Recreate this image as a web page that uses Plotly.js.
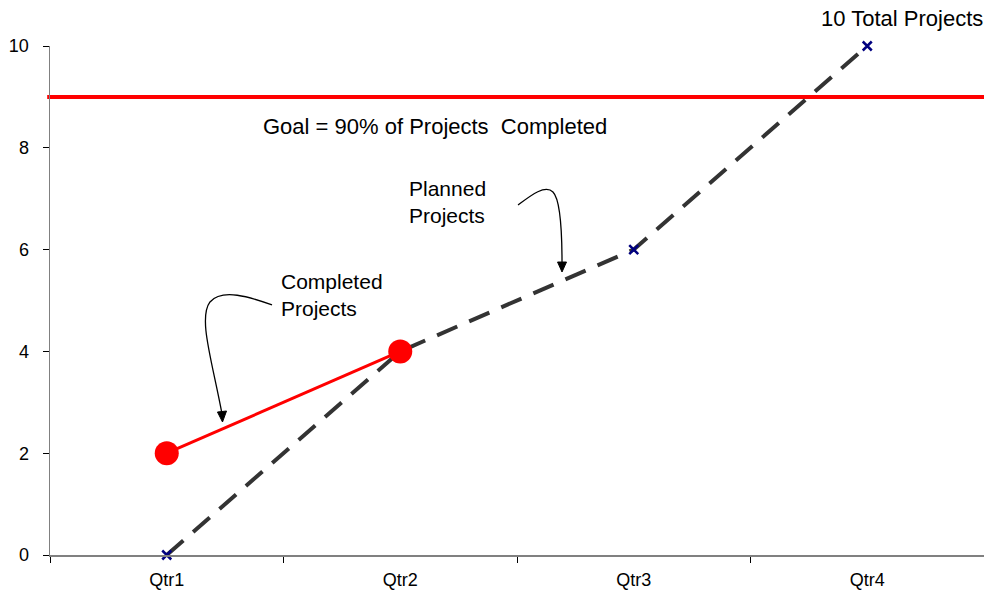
<!DOCTYPE html>
<html>
<head>
<meta charset="utf-8">
<script src="https://cdn.plot.ly/plotly-3.0.1.min.js"></script>
<style>html,body{margin:0;padding:0;background:#fff;}#chart{width:984px;height:590px;}</style>
</head>
<body>
<div id="chart"></div>
<script>
var quarters = ["Qtr1", "Qtr2", "Qtr3", "Qtr4"];
var plannedProjects = [0, 4, 6, 10];
var completedProjects = [2, 4, null, null];
var goalValue = 9;
var yTicks = [0, 2, 4, 6, 8, 10];

var W = 984, H = 590, L = 50, R = 0, T = 46, B = 35;
var PW = W - L - R, PH = H - T - B;
function px(x){ return ((x - L) / PW).toFixed(4); }
function py(y){ return ((H - B - y) / PH).toFixed(4); }
function P(x, y){ return px(x) + "," + py(y); }

var font = "Liberation Sans, Arial, sans-serif";

var traces = [
  {
    x: quarters, y: plannedProjects, type: "scatter", mode: "lines+markers",
    line: {color: "#333333", width: 4, dash: "22px,13px"},
    marker: {symbol: "x-thin", size: 9, color: "#000080", line: {color: "#000080", width: 2.5}},
    cliponaxis: false, hoverinfo: "skip", showlegend: false
  },
  {
    x: quarters, y: completedProjects, type: "scatter", mode: "lines+markers",
    line: {color: "#ff0000", width: 3},
    marker: {symbol: "circle", size: 24, color: "#ff0000"},
    connectgaps: false, cliponaxis: false, hoverinfo: "skip", showlegend: false
  }
];

var shapes = [
  {type: "line", xref: "paper", yref: "y", x0: -0.003, x1: 1, y0: goalValue, y1: goalValue,
   line: {color: "#ff0000", width: 4}, layer: "below"},
  // Completed arrow
  {type: "path", xref: "paper", yref: "paper",
   path: "M" + P(272, 305) + " C" + P(250, 297) + " " + P(222, 288) + " " + P(210, 302) +
         " C" + P(198, 318) + " " + P(212, 360) + " " + P(222, 414),
   line: {color: "#000000", width: 1.3}},
  {type: "path", xref: "paper", yref: "paper",
   path: "M" + P(217.5, 412) + " L" + P(226.5, 411) + " L" + P(222.5, 422) + " Z",
   fillcolor: "#000000", line: {color: "#000000", width: 1}},
  // Planned arrow
  {type: "path", xref: "paper", yref: "paper",
   path: "M" + P(518, 205) + " C" + P(530, 196) + " " + P(545, 184) + " " + P(553, 192) +
         " C" + P(561, 200) + " " + P(562, 240) + " " + P(562, 263),
   line: {color: "#000000", width: 1.3}},
  {type: "path", xref: "paper", yref: "paper",
   path: "M" + P(557.5, 262) + " L" + P(566.5, 262) + " L" + P(562, 272) + " Z",
   fillcolor: "#000000", line: {color: "#000000", width: 1}}
];

var annotations = [
  {xref: "paper", yref: "paper", x: px(434.5), y: py(127), text: "Goal = 90% of Projects&nbsp;&nbsp;Completed",
   showarrow: false, xanchor: "center", yanchor: "middle", font: {family: font, size: 22, color: "#000"}},
  {xref: "paper", yref: "paper", x: px(407), y: py(175), text: "Planned<br>Projects", align: "left",
   showarrow: false, xanchor: "left", yanchor: "top", font: {family: font, size: 21, color: "#000"}},
  {xref: "paper", yref: "paper", x: px(279), y: py(268), text: "Completed<br>Projects", align: "left",
   showarrow: false, xanchor: "left", yanchor: "top", font: {family: font, size: 21, color: "#000"}},
  {xref: "paper", yref: "paper", x: px(985), y: py(18), text: "10 Total Projects",
   showarrow: false, xanchor: "right", yanchor: "middle", font: {family: font, size: 22, color: "#000"}}
];

var layout = {
  width: W, height: H,
  margin: {l: L, r: R, t: T, b: B, pad: 0},
  paper_bgcolor: "#ffffff", plot_bgcolor: "#ffffff",
  showlegend: false,
  font: {family: font, color: "#000"},
  xaxis: {
    type: "category", categoryarray: quarters, range: [-0.5, 3.5],
    showgrid: false, zeroline: false, showline: true, linecolor: "#808080", linewidth: 1.5,
    ticks: "outside", tickson: "boundaries", ticklen: 6, tickcolor: "#000000", tickwidth: 1,
    ticklabelstandoff: 8,
    tickfont: {family: font, size: 18, color: "#000"}, fixedrange: true
  },
  yaxis: {
    range: [0, 10], tickvals: yTicks, showgrid: false, zeroline: false,
    showline: true, linecolor: "#808080", linewidth: 1.5,
    ticks: "outside", ticklen: 6, tickcolor: "#000000", tickwidth: 1,
    ticklabelstandoff: 10,
    tickfont: {family: font, size: 18, color: "#000"}, fixedrange: true
  },
  shapes: shapes,
  annotations: annotations
};

Plotly.newPlot("chart", traces, layout, {displayModeBar: false, staticPlot: true});
</script>
</body>
</html>
